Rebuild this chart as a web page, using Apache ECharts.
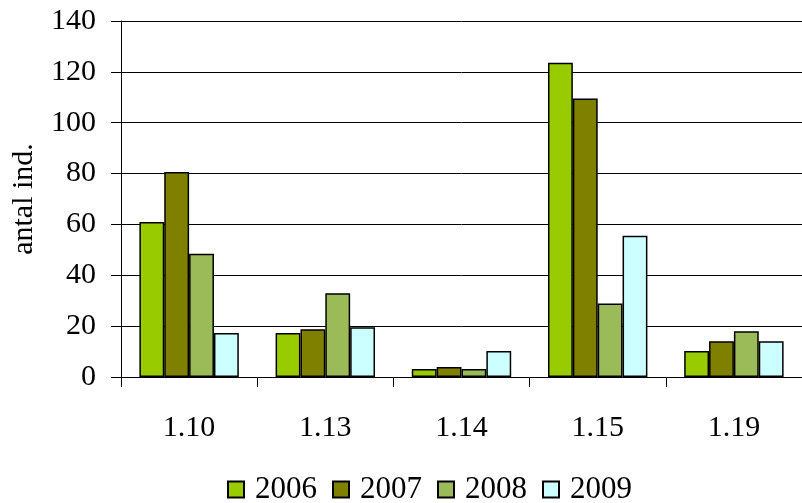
<!DOCTYPE html>
<html>
<head>
<meta charset="utf-8">
<script src="https://cdn.jsdelivr.net/npm/echarts@6/dist/echarts.min.js"></script>
<style>
    html, body { margin: 0; padding: 0; background: #fff; }
    #main { width: 802px; height: 503px; }
</style>
</head>
<body>
<div id="main"></div>
<script>
// 数据
var categories = ['1.10', '1.13', '1.14', '1.15', '1.19']
var years = ['2006', '2007', '2008', '2009']
var v2006 = [61, 17.3, 3.1, 123.6, 10.2]
var v2007 = [80.6, 18.8, 3.9, 109.5, 14.1]
var v2008 = [48.5, 32.9, 3.1, 28.9, 18]
var v2009 = [17.3, 19.6, 10.2, 55.5, 14.1]
var yTicks = [0, 20, 40, 60, 80, 100, 120, 140]

var colors = ['#99CC00', '#808000', '#9BBB59', '#CCFFFF']
var values = [v2006, v2007, v2008, v2009]
var font = "'Liberation Serif', 'Times New Roman', serif"

var series = years.map(function(y, i) {
    return {
        name: y,
        type: 'bar',
        data: values[i],
        barGap: '0%',
        barCategoryGap: '27%',
        itemStyle: {
            color: colors[i],
            borderColor: '#000',
            borderWidth: 1.5
        }
    }
})

var myChart = echarts.init(document.querySelector('#main'))
var option = {
    animation: false,
    grid: {
        left: 121,
        top: 21,
        width: 687,
        height: 356
    },
    legend: {
        data: years,
        left: 222,
        top: 469,
        itemWidth: 16,
        itemHeight: 16,
        itemGap: 15,
        icon: 'rect',
        textStyle: {
            fontFamily: font,
            fontSize: 31,
            color: '#000',
            padding: [0, 0, 0, 6]
        }
    },
    xAxis: {
        type: 'category',
        data: categories,
        axisLine: { lineStyle: { color: '#000', width: 1 } },
        axisTick: { show: true, length: 10, lineStyle: { color: '#000' } },
        axisLabel: {
            margin: 36,
            fontFamily: font,
            fontSize: 30,
            color: '#000'
        }
    },
    yAxis: {
        type: 'value',
        min: yTicks[0],
        max: yTicks[yTicks.length - 1],
        interval: 20,
        name: 'antal ind.',
        nameLocation: 'middle',
        nameGap: 82,
        nameTextStyle: {
            fontFamily: font,
            fontSize: 30,
            color: '#000'
        },
        axisLine: { show: true, lineStyle: { color: '#000', width: 1 } },
        axisTick: { show: true, length: 10, lineStyle: { color: '#000' } },
        axisLabel: {
            margin: 25,
            fontFamily: font,
            fontSize: 30,
            color: '#000'
        },
        splitLine: { lineStyle: { color: '#000', width: 1 } }
    },
    series: series
}
myChart.setOption(option)
</script>
</body>
</html>
